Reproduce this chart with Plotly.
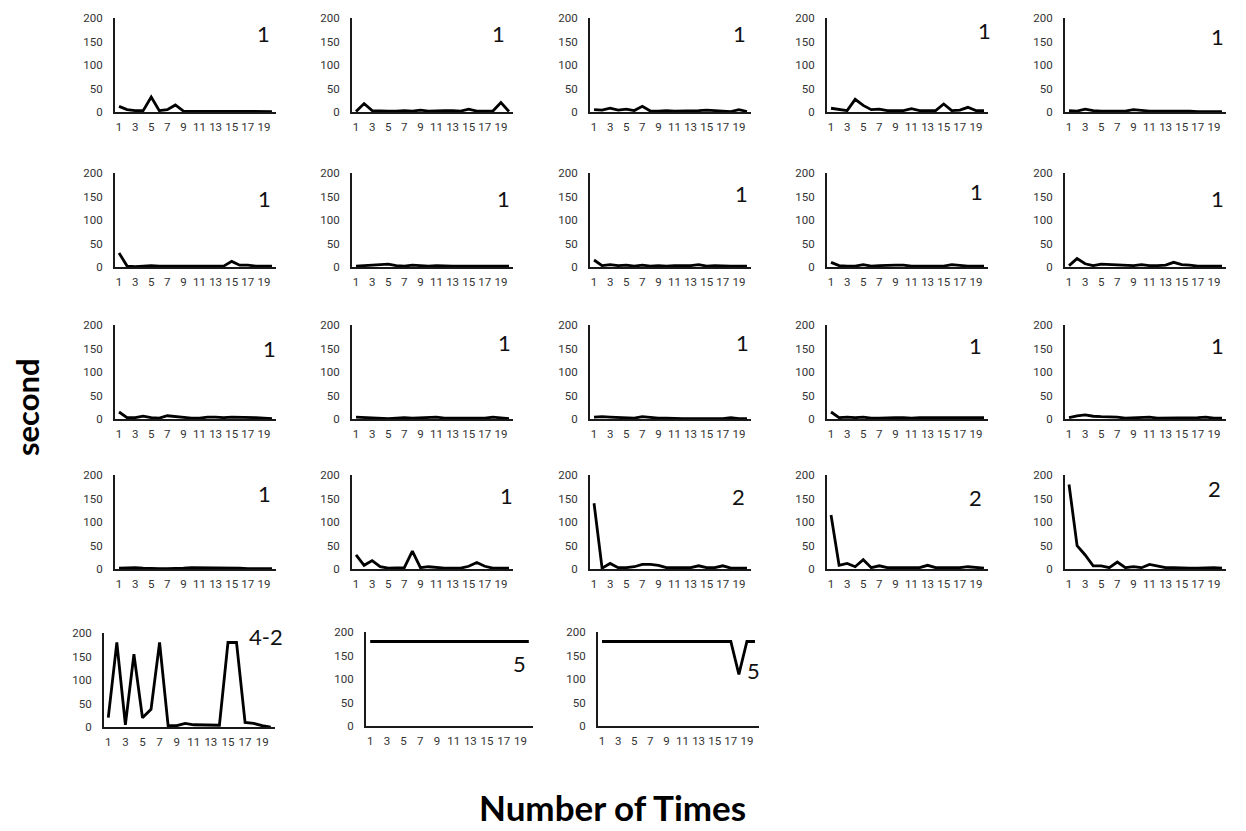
import plotly.graph_objects as go

# ---------------- data ----------------
x_times = [1, 2, 3, 4, 5, 6, 7, 8, 9, 10, 11, 12, 13, 14, 15, 16, 17, 18, 19, 20]
x_tick_vals = [1, 3, 5, 7, 9, 11, 13, 15, 17, 19]
x_tick_text = ["1", "3", "5", "7", "9", "11", "13", "15", "17", "19"]
y_tick_vals = [0, 50, 100, 150, 200]
y_tick_text = ["0", "50", "100", "150", "200"]

s01 = [12, 5, 3, 3, 32, 3, 5, 15, 2, 2, 2, 2, 2, 2, 1, 1, 1, 2, 1, 1]
s02 = [1, 18, 3, 2, 2, 2, 3, 2, 4, 2, 3, 3, 3, 2, 6, 2, 2, 2, 20, 1]
s03 = [5, 4, 8, 4, 6, 3, 12, 2, 2, 3, 2, 2, 2, 3, 4, 3, 2, 1, 5, 1]
s04 = [8, 5, 3, 27, 14, 5, 6, 3, 3, 3, 7, 3, 3, 3, 17, 3, 4, 10, 3, 3]
s05 = [3, 2, 6, 3, 2, 2, 2, 2, 5, 3, 2, 2, 2, 2, 3, 2, 1, 1, 1, 1]
s06 = [30, 2, 1, 2, 3, 2, 2, 3, 3, 2, 2, 3, 3, 2, 12, 4, 4, 2, 2, 2]
s07 = [2, 3, 4, 4, 6, 3, 2, 4, 3, 2, 3, 2, 2, 2, 2, 3, 2, 2, 2, 2]
s08 = [15, 3, 5, 3, 4, 2, 4, 2, 3, 2, 3, 3, 3, 5, 2, 3, 2, 2, 2, 2]
s09 = [10, 3, 2, 2, 5, 2, 3, 4, 4, 4, 2, 2, 2, 2, 2, 5, 3, 2, 2, 2]
s10 = [3, 18, 7, 3, 6, 5, 4, 4, 3, 5, 3, 3, 4, 10, 5, 4, 2, 2, 2, 2]
s11 = [15, 3, 3, 6, 3, 2, 7, 5, 3, 2, 2, 4, 4, 3, 4, 4, 3, 3, 2, 1]
s12 = [4, 3, 3, 2, 1, 2, 3, 2, 3, 4, 4, 2, 2, 2, 3, 2, 2, 4, 2, 1]
s13 = [4, 5, 4, 3, 2, 2, 5, 3, 2, 2, 1, 1, 1, 1, 1, 1, 1, 3, 1, 1]
s14 = [15, 3, 4, 3, 4, 2, 2, 3, 3, 3, 2, 3, 3, 3, 3, 3, 2, 2, 2, 3]
s15 = [3, 7, 9, 6, 5, 5, 4, 2, 3, 4, 4, 2, 2, 3, 2, 2, 3, 4, 2, 2]
s16 = [2, 3, 3, 2, 1, 1, 1, 1, 2, 3, 3, 3, 3, 3, 2, 2, 1, 1, 1, 1]
s17 = [30, 8, 18, 5, 2, 2, 3, 38, 3, 5, 3, 2, 2, 2, 6, 14, 6, 2, 2, 2]
s18 = [140, 2, 12, 3, 3, 5, 10, 10, 8, 3, 3, 3, 3, 7, 3, 3, 7, 2, 2, 2]
s19 = [115, 8, 12, 5, 20, 3, 7, 3, 3, 3, 3, 3, 8, 3, 3, 3, 3, 5, 3, 2]
s20 = [180, 50, 30, 7, 7, 3, 15, 3, 5, 3, 10, 7, 3, 3, 2, 2, 2, 3, 3, 2]
s21 = [20, 180, 5, 155, 20, 38, 180, 3, 3, 8, 5, 5, 5, 4, 180, 180, 10, 8, 3, 0]
s22 = [180, 180, 180, 180, 180, 180, 180, 180, 180, 180,
       180, 180, 180, 180, 180, 180, 180, 180, 180, 180]
s23 = [180, 180, 180, 180, 180, 180, 180, 180, 180, 180,
       180, 180, 180, 180, 180, 180, 180, 110, 180, 180]

panel_labels = ["1", "1", "1", "1", "1",
                "1", "1", "1", "1", "1",
                "1", "1", "1", "1", "1",
                "1", "1", "2", "2", "2",
                "4-2", "5", "5"]

series = [s01, s02, s03, s04, s05, s06, s07, s08, s09, s10, s11, s12,
          s13, s14, s15, s16, s17, s18, s19, s20, s21, s22, s23]

# ---------------- layout geometry (pixels) ----------------
W, H = 1246, 831
# the photographed page appears vertically inset/compressed: shown = 8 + 0.983*page
def page_y(t):
    return (t - 8.0) / 0.983

PH = 94
col_left = [115, 352, 590, 827, 1065]
row_top = [19, 174, 326, 476]
panel_pos = []
for r in range(4):
    for c in range(5):
        panel_pos.append((col_left[c], row_top[r], 161))
panel_pos += [(104, 634, 171), (366, 633, 167), (598, 633, 161)]

label_fx = [0.92, 0.91, 0.93, 0.98, 0.95,
            0.93, 0.94, 0.94, 0.93, 0.95,
            0.96, 0.95, 0.95, 0.92, 0.95,
            0.93, 0.96, 0.92, 0.92, 0.93,
            0.95, 0.92, 0.965]
label_fy = [166, 166, 166, 173, 160,
            146, 146, 157, 160, 145,
            150, 163, 163, 157, 157,
            160, 157, 155, 153, 172,
            192, 133, 118]

fig = go.Figure()
FONT = "Lato, Open Sans, sans-serif"
tick_font = dict(family="Roboto, Lato, sans-serif", size=11.5, color="#333333")

for i, (vals, (lx, ty, pw)) in enumerate(zip(series, panel_pos)):
    n = i + 1
    sfx = "" if n == 1 else str(n)
    xa, ya = "x" + sfx, "y" + sfx
    top = page_y(ty)
    bot = page_y(ty + PH)
    fig.add_trace(go.Scatter(
        x=x_times, y=vals, mode="lines",
        line=dict(color="black", width=2.8),
        xaxis=xa, yaxis=ya, showlegend=False, hoverinfo="skip"))
    fig.layout["xaxis" + sfx] = dict(
        domain=[lx / W, (lx + pw) / W], anchor=ya,
        range=[0.5, 20.5], tickmode="array",
        tickvals=x_tick_vals, ticktext=x_tick_text,
        showline=True, linecolor="#1a1a1a", linewidth=2,
        showgrid=False, zeroline=False, ticks="",
        ticklabelstandoff=3,
        tickfont=tick_font, tickangle=0, fixedrange=True)
    fig.layout["yaxis" + sfx] = dict(
        domain=[1 - bot / H, 1 - top / H], anchor=xa,
        range=[0, 200], tickmode="array",
        tickvals=y_tick_vals, ticktext=y_tick_text,
        showline=True, linecolor="#1a1a1a", linewidth=2,
        showgrid=False, zeroline=False, ticks="",
        ticklabelstandoff=8,
        tickfont=tick_font, fixedrange=True)
    fig.add_annotation(
        x=0.5 + label_fx[i] * 20, y=label_fy[i], xref=xa, yref=ya,
        xanchor="center", yanchor="middle",
        text=panel_labels[i], showarrow=False,
        font=dict(family=FONT, size=22, color="#111111"))

fig.add_annotation(
    x=612 / W, y=1 - page_y(808) / H, xref="paper", yref="paper",
    xanchor="center", yanchor="middle",
    text="<b>Number of Times</b>", showarrow=False,
    font=dict(family=FONT, size=35, color="black"))
fig.add_annotation(
    x=27 / W, y=1 - page_y(408) / H, xref="paper", yref="paper",
    xanchor="center", yanchor="middle",
    text="<b>second</b>", showarrow=False, textangle=-90,
    font=dict(family=FONT, size=31, color="black"))

fig.update_layout(
    width=W, height=H,
    margin=dict(l=0, r=0, t=0, b=0),
    paper_bgcolor="white", plot_bgcolor="white",
    showlegend=False)

fig.write_html("out.html", config={"displayModeBar": False},
               post_script="document.body.style.margin='0';document.body.style.overflow='hidden';")
